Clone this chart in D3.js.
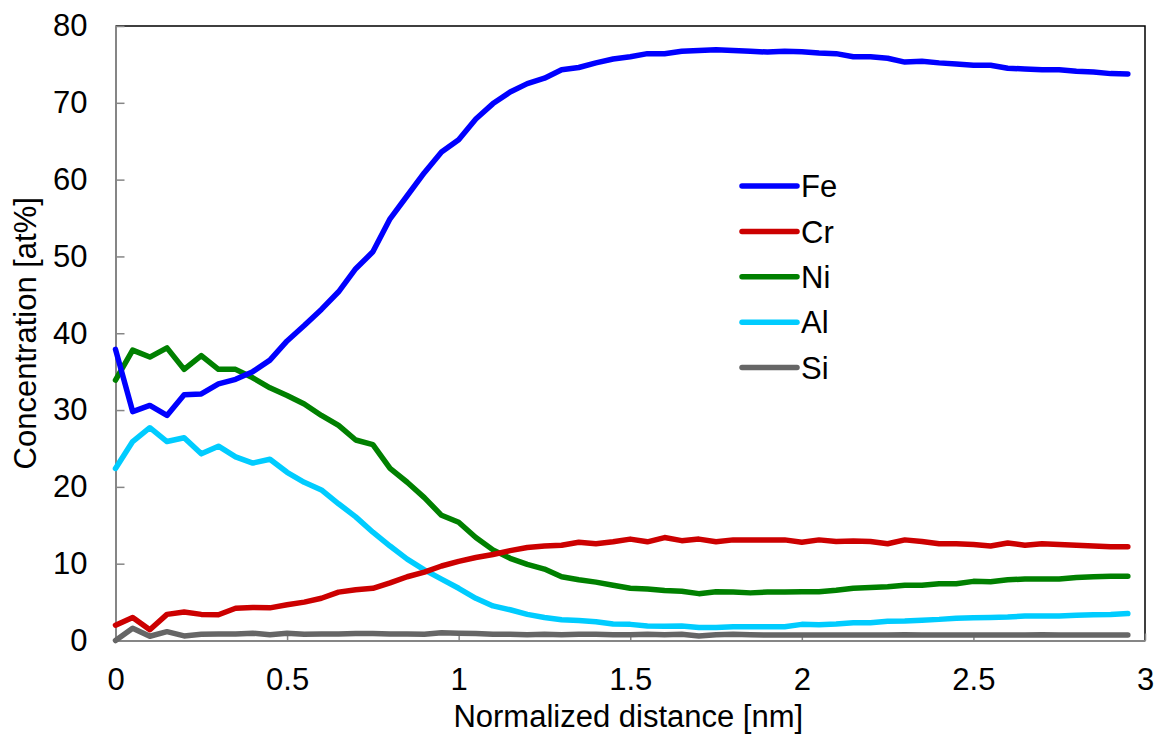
<!DOCTYPE html>
<html>
<head>
<meta charset="utf-8">
<script src="https://cdn.jsdelivr.net/npm/d3@7"></script>
<style>
  body { margin: 0; background: white; }
  text { font-family: "Liberation Sans", Arial, sans-serif; fill: black; }
</style>
</head>
<body>
<div id="container"></div>
<script>
// distance [nm], one point every 0.05
let distance = [0, 0.05, 0.1, 0.15, 0.2, 0.25, 0.3, 0.35, 0.4, 0.45,
  0.5, 0.55, 0.6, 0.65, 0.7, 0.75, 0.8, 0.85, 0.9, 0.95,
  1, 1.05, 1.1, 1.15, 1.2, 1.25, 1.3, 1.35, 1.4, 1.45,
  1.5, 1.55, 1.6, 1.65, 1.7, 1.75, 1.8, 1.85, 1.9, 1.95,
  2, 2.05, 2.1, 2.15, 2.2, 2.25, 2.3, 2.35, 2.4, 2.45,
  2.5, 2.55, 2.6, 2.65, 2.7, 2.75, 2.8, 2.85, 2.9, 2.95];

let fe = [37.9, 29.8, 30.6, 29.3, 32.0, 32.1, 33.4, 34.0, 35.0, 36.5,
  39.0, 41.0, 43.1, 45.4, 48.4, 50.6, 54.9, 57.9, 60.9, 63.6,
  65.2, 67.9, 69.9, 71.4, 72.5, 73.2, 74.3, 74.6, 75.2, 75.7,
  76.0, 76.4, 76.4, 76.7, 76.8, 76.9, 76.8, 76.7, 76.6, 76.7,
  76.65, 76.5, 76.4, 76.0, 76.0, 75.8, 75.3, 75.4, 75.2, 75.05,
  74.9, 74.9, 74.5, 74.4, 74.3, 74.3, 74.1, 74.0, 73.8, 73.75];

let cr = [2.0, 3.0, 1.4, 3.4, 3.7, 3.4, 3.35, 4.2, 4.3, 4.25,
  4.65, 5.0, 5.5, 6.3, 6.6, 6.8, 7.5, 8.3, 8.9, 9.7,
  10.3, 10.8, 11.2, 11.7, 12.1, 12.3, 12.4, 12.8, 12.6, 12.85,
  13.2, 12.85, 13.4, 13.0, 13.2, 12.85, 13.1, 13.1, 13.1, 13.1,
  12.8, 13.1, 12.9, 12.95, 12.9, 12.6, 13.1, 12.9, 12.6, 12.6,
  12.5, 12.3, 12.7, 12.4, 12.6, 12.5, 12.4, 12.3, 12.2, 12.2];

let ni = [33.9, 37.8, 36.9, 38.1, 35.3, 37.1, 35.3, 35.3, 34.2, 32.9,
  31.9, 30.8, 29.3, 28.0, 26.1, 25.5, 22.4, 20.6, 18.6, 16.3,
  15.4, 13.4, 11.8, 10.7, 9.9, 9.3, 8.3, 7.9, 7.6, 7.2,
  6.8, 6.7, 6.5, 6.4, 6.1, 6.35, 6.3, 6.2, 6.3, 6.3,
  6.35, 6.35, 6.55, 6.8, 6.9, 7.0, 7.2, 7.2, 7.4, 7.4,
  7.7, 7.65, 7.9, 8.0, 8.0, 8.0, 8.2, 8.3, 8.35, 8.35];

let al = [22.4, 25.9, 27.7, 25.9, 26.4, 24.3, 25.3, 23.9, 23.1, 23.6,
  21.9, 20.6, 19.6, 17.8, 16.1, 14.1, 12.3, 10.6, 9.2, 8.0,
  6.8, 5.5, 4.5, 4.0, 3.4, 3.0, 2.7, 2.6, 2.45, 2.15,
  2.1, 1.9, 1.85, 1.9, 1.7, 1.7, 1.8, 1.8, 1.8, 1.8,
  2.1, 2.05, 2.15, 2.3, 2.3, 2.5, 2.55, 2.65, 2.75, 2.9,
  2.95, 3.0, 3.05, 3.2, 3.2, 3.2, 3.3, 3.35, 3.4, 3.5];

let si = [0.0, 1.6, 0.55, 1.15, 0.6, 0.8, 0.85, 0.85, 0.95, 0.75,
  0.95, 0.8, 0.85, 0.85, 0.9, 0.9, 0.85, 0.85, 0.8, 1.0,
  0.95, 0.9, 0.8, 0.8, 0.75, 0.8, 0.75, 0.8, 0.8, 0.75,
  0.75, 0.8, 0.75, 0.8, 0.6, 0.75, 0.8, 0.75, 0.7, 0.7,
  0.7, 0.7, 0.7, 0.7, 0.7, 0.7, 0.75, 0.7, 0.7, 0.7,
  0.7, 0.7, 0.7, 0.7, 0.75, 0.7, 0.7, 0.7, 0.7, 0.7];

let elements = ["Fe", "Cr", "Ni", "Al", "Si"];
let colors = ["#0000ff", "#cc0000", "#008000", "#00ccff", "#666666"];
let xTicks = [0, 0.5, 1, 1.5, 2, 2.5, 3];
let yTicks = [0, 10, 20, 30, 40, 50, 60, 70, 80];

let seriesList = [fe, cr, ni, al, si].map(function(vals, i) {
  return {
    name: elements[i],
    color: colors[i],
    points: vals.map(function(v, j) { return [distance[j], v]; })
  };
});

let w = 1163;
let h = 740;
let padL = 115.5, padR = 1145, padT = 26, padB = 640.5;
let fontSize = 31;

let viz = d3.select("#container").append("svg")
    .attr("width", w)
    .attr("height", h)
    .style("display", "block");

let x = d3.scaleLinear().domain([0, 3]).range([padL, padR]);
let y = d3.scaleLinear().domain([0, 80]).range([padB, padT]);

// top + right frame
viz.append("path")
    .attr("d", "M" + padL + "," + padT + "H" + padR + "V" + padB)
    .attr("fill", "none")
    .attr("stroke", "black")
    .attr("stroke-width", 1.5);

// axes, ticks pointing inward
let yAxis = viz.append("g")
    .attr("transform", "translate(" + padL + ",0)")
    .call(d3.axisLeft(y).tickValues(yTicks).tickSize(-9).tickSizeOuter(0).tickPadding(28));

let xAxis = viz.append("g")
    .attr("transform", "translate(0," + padB + ")")
    .call(d3.axisBottom(x).tickValues(xTicks).tickSize(-7).tickSizeOuter(0).tickPadding(27)
      .tickFormat(function(d) { return String(d); }));

[xAxis, yAxis].forEach(function(ax) {
  ax.select(".domain").attr("stroke", "#868686").attr("stroke-width", 2);
  ax.selectAll(".tick line").attr("stroke", "#868686").attr("stroke-width", 1.5);
  ax.selectAll(".tick text")
      .style("font-family", "'Liberation Sans', Arial, sans-serif")
      .style("font-size", fontSize + "px")
      .attr("fill", "black");
});

// lines
let lineMaker = d3.line()
    .x(function(d) { return x(d[0]); })
    .y(function(d) { return y(d[1]); });

// draw bottom series first so Fe ends on top
viz.selectAll(".series").data(seriesList.slice().reverse()).enter()
  .append("path")
    .attr("class", "series")
    .attr("d", function(d) { return lineMaker(d.points); })
    .attr("fill", "none")
    .attr("stroke", function(d) { return d.color; })
    .attr("stroke-width", 5.5)
    .attr("stroke-linejoin", "round")
    .attr("stroke-linecap", "round");

// legend
let legend = viz.append("g").attr("transform", "translate(742,186)");
let rows = legend.selectAll(".row").data(seriesList).enter()
  .append("g")
    .attr("class", "row")
    .attr("transform", function(d, i) { return "translate(0," + (i * 45.4) + ")"; });

rows.append("line")
    .attr("x1", 0).attr("x2", 55)
    .attr("stroke", function(d) { return d.color; })
    .attr("stroke-width", 5.5)
    .attr("stroke-linecap", "round");

rows.append("text")
    .attr("x", 59)
    .attr("dy", "0.36em")
    .style("font-size", fontSize + "px")
    .text(function(d) { return d.name; });

// axis titles
viz.append("text")
    .attr("x", (padL + padR) / 2 - 2)
    .attr("y", 727)
    .attr("text-anchor", "middle")
    .style("font-size", fontSize + "px")
    .text("Normalized distance [nm]");

viz.append("text")
    .attr("transform", "translate(36," + ((padT + padB) / 2) + ") rotate(-90)")
    .attr("text-anchor", "middle")
    .style("font-size", fontSize + "px")
    .text("Concentration [at%]");
</script>
</body>
</html>
